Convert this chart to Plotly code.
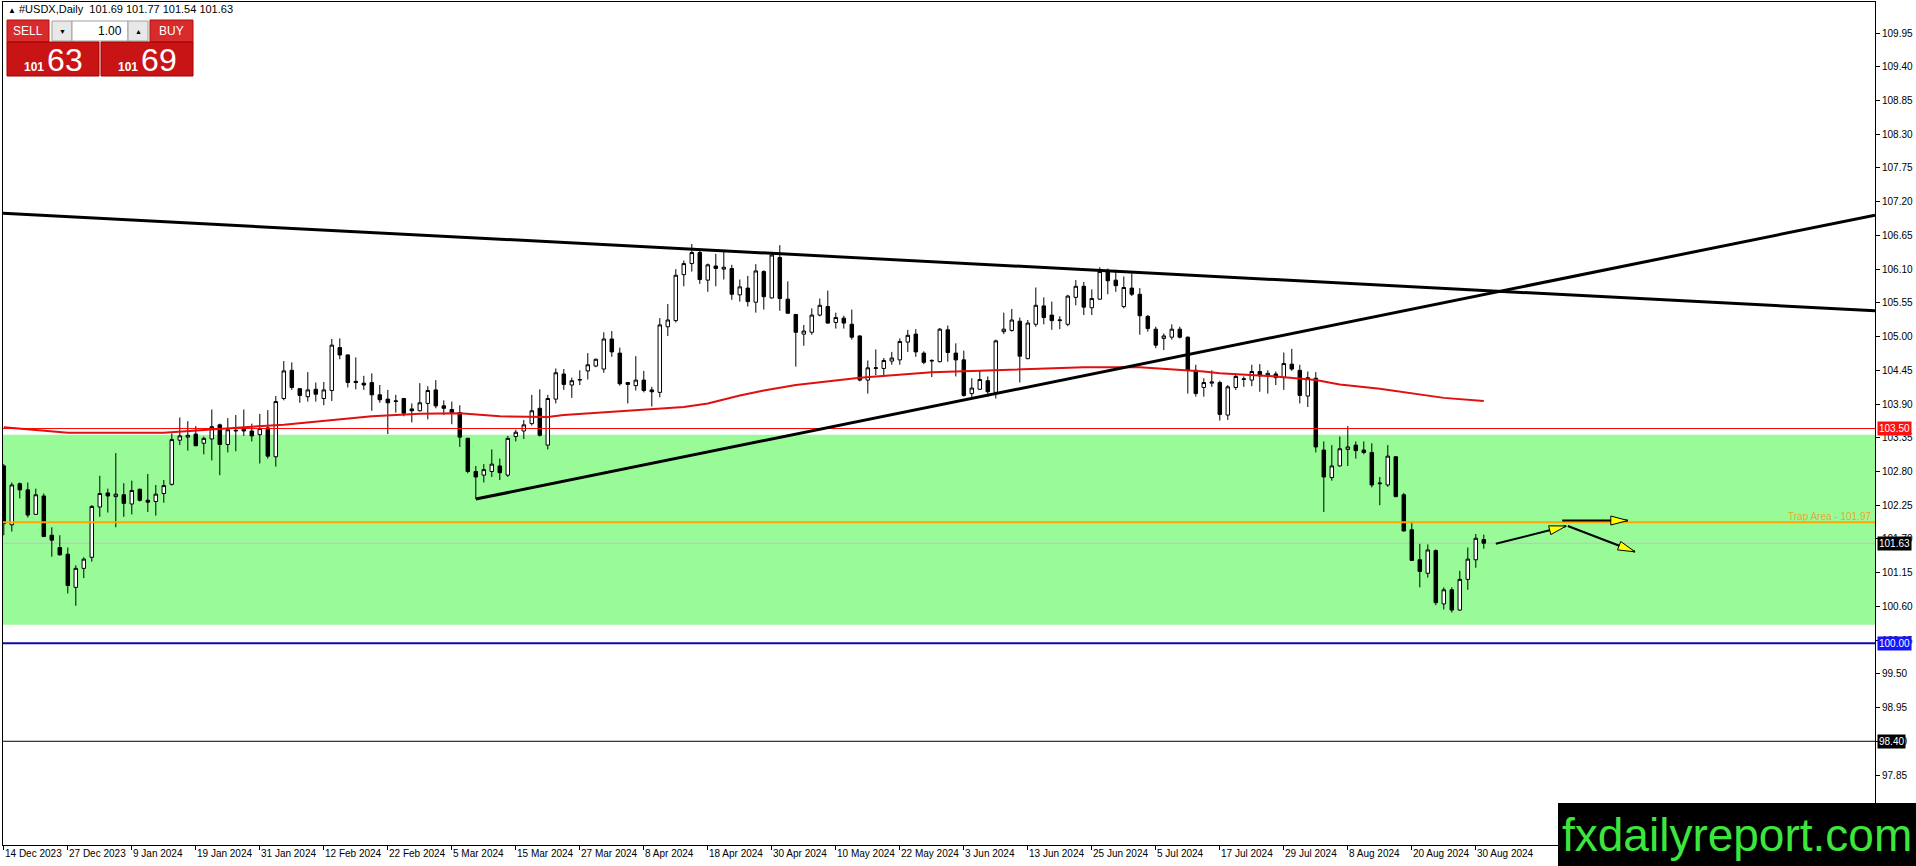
import math
import pandas as pd
import plotly.graph_objects as go

# ---- bars: every weekday 14 Dec 2023 .. 2 Sep 2024, minus the two closed days
closed_days = ["2023-12-25", "2024-01-01"]
dates = [d for d in pd.bdate_range("2023-12-14", "2024-09-02")
         if d.strftime("%Y-%m-%d") not in closed_days]

# daily OHLC (bar 0 = 14 Dec 2023)
opens = [
    102.89, 101.93, 102.60, 102.50, 102.10, 102.40, 101.76, 101.56, 101.45, 100.91,
    101.22, 101.40, 102.22, 102.45, 102.39, 102.42, 102.27, 102.51, 102.33, 102.31,
    102.44, 102.59, 103.31, 103.36, 103.41, 103.26, 103.33, 103.56, 103.24, 103.46,
    103.50, 103.46, 103.40, 103.51, 103.04, 103.99, 104.45, 104.15, 104.02, 104.14,
    103.99, 104.12, 104.82, 104.70, 104.27, 104.24, 104.25, 104.05, 103.98, 103.94,
    103.99, 103.82, 103.79, 103.91, 104.13, 103.87, 103.81, 103.76, 103.34, 102.80,
    102.74, 102.80, 102.89, 102.74, 103.37, 103.46, 103.58, 103.83, 103.23, 103.98,
    104.39, 104.21, 104.29, 104.44, 104.52, 104.47, 104.96, 104.73, 104.25, 104.20,
    104.29, 104.13, 104.09, 105.16, 105.26, 106.01, 106.19, 106.37, 105.92, 106.15,
    106.10, 106.11, 105.68, 105.79, 105.56, 106.06, 105.63, 106.29, 105.61, 105.36,
    105.04, 105.07, 105.35, 105.49, 105.23, 105.30, 105.20, 105.01, 104.29, 104.48,
    104.48, 104.60, 104.62, 104.91, 105.04, 104.73, 104.60, 104.59, 105.11, 104.73,
    104.62, 104.07, 104.14, 104.28, 104.09, 105.08, 105.10, 105.25, 104.64, 105.20,
    105.50, 105.35, 105.26, 105.20, 105.64, 105.82, 105.47, 105.61, 106.07, 105.92,
    105.49, 105.79, 105.69, 105.33, 105.12, 104.97, 104.99, 105.12, 104.99, 104.45,
    104.17, 104.24, 104.25, 103.72, 104.17, 104.30, 104.29, 104.43, 104.35, 104.39,
    104.33, 104.55, 104.45, 104.03, 104.32, 103.15, 102.70, 102.89, 103.16, 103.23,
    103.15, 103.11, 102.60, 102.58, 103.04, 102.42, 101.85, 101.36, 101.14, 101.51,
    100.64, 100.87, 100.54, 101.04, 101.36, 101.69,
]
highs = [
    102.92, 102.62, 102.62, 102.62, 102.52, 102.44, 101.89, 101.76, 101.56, 101.27,
    101.40, 102.25, 102.73, 102.52, 103.10, 102.61, 102.65, 102.52, 102.76, 102.58,
    102.66, 103.42, 103.68, 103.62, 103.54, 103.37, 103.81, 103.58, 103.67, 103.72,
    103.81, 103.58, 103.74, 103.80, 104.03, 104.60, 104.58, 104.16, 104.42, 104.25,
    104.26, 104.96, 104.97, 104.71, 104.66, 104.36, 104.40, 104.21, 104.13, 104.05,
    104.00, 103.91, 104.24, 104.19, 104.29, 103.96, 103.94, 103.88, 103.35, 102.89,
    102.92, 103.16, 103.01, 103.38, 103.48, 103.64, 104.05, 104.14, 104.05, 104.48,
    104.47, 104.33, 104.45, 104.73, 104.64, 105.07, 105.09, 104.82, 104.26, 104.68,
    104.44, 104.18, 105.30, 105.53, 106.10, 106.24, 106.51, 106.42, 106.19, 106.35,
    106.38, 106.17, 105.93, 105.99, 106.18, 106.08, 106.38, 106.49, 105.90, 105.37,
    105.19, 105.46, 105.62, 105.75, 105.39, 105.34, 105.44, 105.02, 104.61, 104.79,
    104.65, 104.75, 104.97, 105.11, 105.12, 104.76, 104.63, 105.14, 105.18, 104.89,
    104.77, 104.32, 104.44, 104.35, 104.95, 105.39, 105.45, 105.31, 105.27, 105.80,
    105.64, 105.57, 105.33, 105.68, 105.92, 105.89, 105.77, 106.13, 106.11, 106.09,
    105.98, 106.03, 105.79, 105.35, 105.16, 105.05, 105.20, 105.16, 105.00, 104.54,
    104.32, 104.45, 104.28, 104.21, 104.40, 104.35, 104.54, 104.55, 104.45, 104.43,
    104.74, 104.80, 104.54, 104.43, 104.42, 103.29, 103.23, 103.37, 103.54, 103.29,
    103.29, 103.26, 102.71, 103.23, 103.05, 102.45, 101.98, 101.62, 101.61, 101.53,
    100.91, 100.91, 101.18, 101.56, 101.78, 101.77,
]
lows = [
    101.76, 101.82, 102.36, 102.05, 102.10, 101.73, 101.41, 101.43, 100.81, 100.61,
    101.06, 101.33, 102.06, 102.13, 101.89, 102.06, 102.10, 102.31, 102.14, 102.08,
    102.29, 102.57, 103.23, 103.14, 103.21, 103.08, 102.98, 102.74, 103.11, 103.13,
    103.38, 103.29, 102.93, 103.01, 102.88, 103.96, 104.13, 103.92, 103.94, 103.94,
    103.88, 103.95, 104.63, 104.17, 104.14, 104.13, 103.79, 103.92, 103.41, 103.76,
    103.70, 103.60, 103.78, 103.65, 103.83, 103.72, 103.57, 103.20, 102.77, 102.35,
    102.62, 102.71, 102.66, 102.71, 103.29, 103.33, 103.55, 103.37, 103.16, 103.91,
    104.13, 104.00, 104.21, 104.30, 104.50, 104.41, 104.67, 104.20, 103.91, 104.12,
    104.09, 103.86, 104.01, 105.01, 105.23, 105.82, 106.06, 105.86, 105.73, 105.82,
    105.93, 105.60, 105.57, 105.49, 105.39, 105.44, 105.62, 105.42, 105.37, 104.51,
    104.85, 105.03, 105.33, 105.21, 105.13, 105.13, 104.95, 104.27, 104.07, 104.37,
    104.37, 104.54, 104.54, 104.75, 104.67, 104.55, 104.34, 104.58, 104.59, 104.35,
    104.02, 104.01, 104.13, 104.02, 103.99, 105.04, 105.08, 104.25, 104.63, 105.16,
    105.20, 105.11, 105.12, 105.17, 105.51, 105.35, 105.35, 105.60, 105.69, 105.73,
    105.46, 105.66, 105.03, 105.08, 104.81, 104.78, 104.95, 104.97, 104.07, 104.02,
    104.02, 104.18, 103.63, 103.64, 104.13, 104.18, 104.19, 104.10, 104.07, 104.21,
    104.13, 104.44, 103.91, 103.85, 103.11, 102.14, 102.65, 102.88, 102.89, 103.01,
    103.08, 102.54, 102.25, 102.55, 102.38, 101.82, 101.34, 100.91, 101.07, 100.62,
    100.55, 100.50, 100.53, 100.87, 101.23, 101.54,
]
closes = [
    101.95, 102.58, 102.50, 102.09, 102.42, 101.74, 101.68, 101.44, 100.94, 101.22,
    101.37, 102.23, 102.44, 102.40, 102.43, 102.28, 102.49, 102.33, 102.30, 102.43,
    102.57, 103.32, 103.38, 103.39, 103.22, 103.34, 103.53, 103.24, 103.48, 103.47,
    103.46, 103.38, 103.50, 103.05, 103.94, 104.44, 104.17, 104.04, 104.13, 104.06,
    104.13, 104.86, 104.70, 104.25, 104.25, 104.21, 104.05, 103.97, 103.92, 103.95,
    103.75, 103.79, 103.92, 104.12, 103.87, 103.83, 103.76, 103.36, 102.80, 102.71,
    102.83, 102.92, 102.78, 103.34, 103.44, 103.56, 103.79, 103.39, 103.99, 104.41,
    104.22, 104.28, 104.30, 104.54, 104.63, 104.96, 104.75, 104.23, 104.22, 104.29,
    104.12, 104.10, 105.19, 105.27, 106.00, 106.19, 106.37, 105.93, 106.17, 106.11,
    106.13, 105.69, 105.81, 105.57, 106.07, 105.65, 106.33, 105.62, 105.38, 105.07,
    105.09, 105.35, 105.51, 105.22, 105.31, 105.22, 104.99, 104.29, 104.49, 104.49,
    104.61, 104.65, 104.92, 105.02, 104.75, 104.58, 104.61, 105.12, 104.74, 104.62,
    104.04, 104.16, 104.30, 104.10, 104.93, 105.12, 105.27, 104.68, 105.22, 105.51,
    105.31, 105.26, 105.27, 105.66, 105.82, 105.48, 105.62, 106.06, 105.91, 105.83,
    105.80, 105.69, 105.34, 105.13, 104.86, 105.01, 105.12, 104.99, 104.45, 104.07,
    104.25, 104.26, 103.73, 104.18, 104.35, 104.31, 104.43, 104.36, 104.40, 104.33,
    104.56, 104.47, 104.04, 104.33, 103.20, 102.71, 102.89, 103.17, 103.20, 103.14,
    103.11, 102.58, 102.61, 103.05, 102.39, 101.83, 101.35, 101.17, 101.52, 100.66,
    100.87, 100.54, 101.04, 101.37, 101.71, 101.63,
]
assert len(dates) == len(opens) == len(highs) == len(lows) == len(closes)
bars = list(range(len(dates)))

# red moving average, sampled along the drawn curve (bar index, value)
ma_bar = [0, 2, 4, 8, 20, 22, 27, 31, 35, 46, 52, 57, 62, 68, 70, 78, 81, 85, 88,
          92, 95, 99, 107, 116, 121, 129, 135, 142, 146, 150, 152, 159, 164, 167,
          172, 176, 180, 185]
ma_value = [103.52, 103.50, 103.48, 103.43, 103.43, 103.45, 103.49, 103.53, 103.56,
            103.70, 103.74, 103.75, 103.70, 103.69, 103.72, 103.79, 103.81, 103.85,
            103.91, 104.04, 104.12, 104.21, 104.33, 104.42, 104.44, 104.47, 104.50,
            104.50, 104.47, 104.43, 104.40, 104.35, 104.29, 104.22, 104.15, 104.07,
            104.00, 103.95]

# horizontal levels
zone_low, zone_high = 100.30, 103.40
level_red = 103.50
trap_level = 101.97
bid_level = 101.63
level_blue = 100.00
level_black = 98.40

# trend lines ((bar, price), (bar, price))
falling_line = ((-0.1, 107.01), (233.9, 105.42))
rising_line = ((59.0, 102.35), (233.9, 106.98))

# arrows drawn on the right ((bar, price) -> (bar, price))
arrows = [
    ((186.5, 101.62), (195.3, 101.91)),
    ((194.8, 102.00), (203.0, 102.00)),
    ((195.5, 101.91), (203.9, 101.49)),
]

label_every = 8
date_labels = [(i, f"{dates[i].day} {dates[i]:%b %Y}") for i in range(0, len(dates), label_every)]

# ---- geometry of the window
W, H = 1916, 866
ML, MR, MT, MB = 3, 41, 2, 21
PX_BAR = 8.0
PX_UNIT = 61.32
XMIN = -0.1
XMAX = XMIN + (W - ML - MR) / PX_BAR
YMAX = 110.456
YMIN = YMAX - (H - MT - MB) / PX_UNIT


def paper_x(px):
    return (px - ML) / (W - ML - MR)


def paper_y(py):
    return (H - MB - py) / (H - MT - MB)


def arrow_head(p0, p1, length=17, half=4.5):
    dx = (p1[0] - p0[0]) * PX_BAR
    dy = -(p1[1] - p0[1]) * PX_UNIT
    n = math.hypot(dx, dy)
    ux, uy = dx / n, dy / n
    bx, by = -ux * length, -uy * length
    pts = [(0, 0), (bx - uy * half, by + ux * half), (bx + uy * half, by - ux * half)]
    coords = [(p1[0] + qx / PX_BAR, p1[1] - qy / PX_UNIT) for qx, qy in pts]
    return "M " + " L ".join(f"{a},{b}" for a, b in coords) + " Z"


FONT = "Liberation Sans, Arial, sans-serif"

fig = go.Figure(go.Candlestick(
    x=bars, open=opens, high=highs, low=lows, close=closes,
    increasing=dict(line=dict(color="black", width=1), fillcolor="white"),
    decreasing=dict(line=dict(color="black", width=1), fillcolor="black"),
    whiskerwidth=0, hoverinfo="skip",
))
fig.add_trace(go.Scatter(x=ma_bar, y=ma_value, mode="lines",
                         line=dict(color="#e01010", width=2), hoverinfo="skip"))

shapes = [
    dict(type="rect", xref="paper", yref="y", x0=0, x1=1, y0=zone_low, y1=zone_high,
         fillcolor="#98fb98", line_width=0, layer="below"),
    dict(type="line", xref="paper", yref="y", x0=0, x1=1, y0=bid_level, y1=bid_level,
         line=dict(color="#c0c0c0", width=1), layer="below"),
]
for lvl, col, wd in [(level_red, "#ff0000", 1), (trap_level, "#ffa500", 2),
                     (level_blue, "#0a0ab4", 2), (level_black, "black", 1)]:
    shapes.append(dict(type="line", xref="paper", yref="y", x0=0, x1=1, y0=lvl, y1=lvl,
                       line=dict(color=col, width=wd), layer="above"))
for (a, b) in (falling_line, rising_line):
    shapes.append(dict(type="line", xref="x", yref="y", x0=a[0], y0=a[1], x1=b[0], y1=b[1],
                       line=dict(color="black", width=3), layer="above"))
for p0, p1 in arrows:
    shapes.append(dict(type="line", xref="x", yref="y", x0=p0[0], y0=p0[1], x1=p1[0], y1=p1[1],
                       line=dict(color="black", width=2), layer="above"))
    shapes.append(dict(type="path", xref="x", yref="y", path=arrow_head(p0, p1),
                       fillcolor="#ffff00", line=dict(color="black", width=1), layer="above"))

# one-click trading panel (pixel boxes)
panel = [
    ((7, 20, 49, 42), "#d92b2b", "#b01010"),
    ((52, 21, 72, 41), "#e8e8e8", "#a0a0a0"),
    ((72, 21, 128, 41), "white", "#a0a0a0"),
    ((128, 21, 148, 41), "#e8e8e8", "#a0a0a0"),
    ((150, 20, 193, 42), "#d92b2b", "#b01010"),
    ((7, 42, 99, 76), "#c81414", "#a00000"),
    ((101, 42, 193, 76), "#c81414", "#a00000"),
]
for (x0, y0, x1, y1), fill, edge in panel:
    shapes.append(dict(type="rect", xref="paper", yref="paper",
                       x0=paper_x(x0), x1=paper_x(x1), y0=paper_y(y1), y1=paper_y(y0),
                       fillcolor=fill, line=dict(color=edge, width=1), layer="above"))
# watermark box
shapes.append(dict(type="rect", xref="paper", yref="paper",
                   x0=paper_x(1558), x1=paper_x(1918), y0=paper_y(868), y1=paper_y(803),
                   fillcolor="black", line_width=0, layer="above"))

ann = []


def text_at(px, py, txt, size=11, color="black", xanchor="left", yanchor="middle", family=FONT, **kw):
    ann.append(dict(xref="paper", yref="paper", x=paper_x(px), y=paper_y(py), text=txt,
                    showarrow=False, xanchor=xanchor, yanchor=yanchor,
                    font=dict(size=size, color=color, family=family), **kw))


text_at(6, 9, "<span style='font-size:8px'>▲</span> #USDX,Daily  101.69 101.77 101.54 101.63", size=11)
text_at(28, 31, "SELL", size=12, color="white", xanchor="center")
text_at(171, 31, "BUY", size=12, color="white", xanchor="center")
text_at(62, 31, "▼", size=7, xanchor="center")
text_at(138, 31, "▲", size=7, xanchor="center")
text_at(124, 31, "1.00", size=12, xanchor="right")
text_at(53, 60, "<b style='font-size:12px'>101</b> <span style='font-size:32px'>63</span>",
        color="white", xanchor="center")
text_at(147, 60, "<b style='font-size:12px'>101</b> <span style='font-size:32px'>69</span>",
        color="white", xanchor="center")
text_at(1737, 835, "fxdailyreport.com", size=46, color="#3ce63c", xanchor="center",
        family="Liberation Sans Narrow, Arial Narrow, sans-serif")

for i, lab in date_labels:
    ann.append(dict(xref="x", yref="paper", x=i, y=0, yanchor="top", xanchor="left",
                    xshift=-1, yshift=-1, text=lab, showarrow=False,
                    font=dict(size=10, color="black", family=FONT)))

ann.append(dict(xref="paper", yref="y", x=1, y=trap_level, xanchor="right", yanchor="bottom",
                xshift=-2, yshift=-2, text="Trap Area - 101.97", showarrow=False,
                font=dict(size=10, color="#e8a830", family=FONT)))

for lvl, bg in [(level_red, "#ff1010"), (bid_level, "black"), (level_blue, "#1414ff"), (level_black, "black")]:
    ann.append(dict(xref="paper", yref="y", x=1, y=lvl, xanchor="left", yanchor="middle",
                    xshift=2, text=f"{lvl:.2f}", showarrow=False, bgcolor=bg, borderpad=1,
                    font=dict(size=10, color="white", family=FONT)))

fig.update_layout(
    width=W, height=H, margin=dict(l=ML, r=MR, t=MT, b=MB),
    paper_bgcolor="white", plot_bgcolor="white", showlegend=False,
    boxgap=0.38,
    xaxis=dict(range=[XMIN, XMAX], showgrid=False, zeroline=False, showline=True,
               linecolor="black", linewidth=1, mirror=True, ticks="outside", ticklen=4,
               tickcolor="black", tickvals=[i for i, _ in date_labels], showticklabels=False,
               rangeslider=dict(visible=False), fixedrange=True),
    yaxis=dict(range=[YMIN, YMAX], side="right", showgrid=False, zeroline=False,
               showline=True, linecolor="black", linewidth=1, mirror=True,
               tick0=97.85, dtick=0.55, tickformat=".2f", ticks="outside", ticklen=4,
               tickcolor="black", tickfont=dict(size=10, color="black", family=FONT),
               fixedrange=True),
    shapes=shapes, annotations=ann,
)

# page body margin would push the 1916x866 figure off the window edge
fig.write_html("out.html", config={"displayModeBar": False},
               post_script="document.body.style.margin='0';"
                           "document.body.style.overflow='hidden';")
